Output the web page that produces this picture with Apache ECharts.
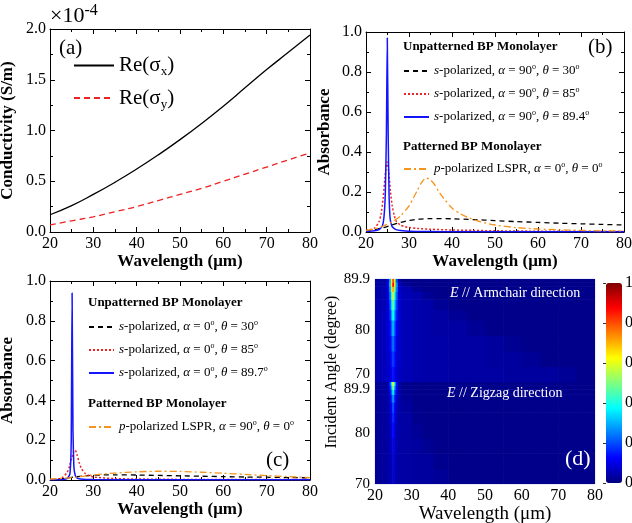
<!DOCTYPE html>
<html>
<head>
<meta charset="utf-8">
<script src="https://cdn.jsdelivr.net/npm/echarts@6/dist/echarts.min.js"></script>
<style>
  html, body { margin: 0; padding: 0; background: #fff; }
  #chart { width: 632px; height: 523px; }
</style>
</head>
<body>
<div id="chart"></div>
<script>
// (a) conductivity, units of 1e-4 S/m
var wlA = [20, 25, 30, 35, 40, 45, 50, 55, 60, 65, 70, 75, 80];
var sigmaX = [0.17, 0.26, 0.37, 0.49, 0.62, 0.76, 0.91, 1.07, 1.24, 1.42, 1.60, 1.77, 1.94];
var sigmaY = [0.07, 0.11, 0.15, 0.20, 0.25, 0.31, 0.37, 0.43, 0.50, 0.57, 0.64, 0.71, 0.78];

// (b) alpha = 90
var wlB30 = [20, 22, 24, 26, 28, 30, 32, 35, 40, 45, 50, 55, 60, 65, 70, 75, 80];
var absB30 = [0.005, 0.012, 0.022, 0.035, 0.048, 0.058, 0.064, 0.067, 0.066, 0.062, 0.057, 0.052, 0.048, 0.044, 0.041, 0.038, 0.035];
var wlB85 = [20, 21, 22, 23, 23.5, 24, 24.4, 24.9, 25.3, 25.7, 26.1, 26.6, 27, 28, 29, 30, 32, 35, 40, 45, 50, 60, 70, 80];
var absB85 = [0.008, 0.012, 0.02, 0.05, 0.09, 0.17, 0.27, 0.35, 0.3, 0.2, 0.13, 0.08, 0.055, 0.035, 0.027, 0.022, 0.018, 0.014, 0.01, 0.008, 0.006, 0.004, 0.003, 0.002];
var wlB894 = [20, 22, 23, 23.8, 24.2, 24.5, 24.75, 24.95, 25.15, 25.35, 25.6, 26, 26.5, 27, 28, 30, 35, 40, 50, 60, 80];
var absB894 = [0.003, 0.006, 0.012, 0.03, 0.08, 0.2, 0.5, 0.97, 0.5, 0.2, 0.07, 0.03, 0.018, 0.012, 0.008, 0.004, 0.002, 0.001, 0.001, 0.001, 0.001];
var wlBLspr = [20, 22, 24, 26, 28, 30, 31, 32, 33, 34, 35, 36, 37, 38, 40, 42, 44, 46, 50, 55, 60, 65, 70, 75, 80];
var absBLspr = [0.008, 0.015, 0.03, 0.05, 0.08, 0.13, 0.17, 0.21, 0.25, 0.27, 0.26, 0.235, 0.2, 0.17, 0.12, 0.09, 0.07, 0.055, 0.035, 0.022, 0.015, 0.011, 0.008, 0.006, 0.005];

// (c) alpha = 0
var wlC30 = [20, 22, 24, 26, 28, 30, 35, 40, 45, 50, 55, 60, 65, 70, 75, 80];
var absC30 = [0.002, 0.005, 0.01, 0.016, 0.021, 0.024, 0.026, 0.025, 0.023, 0.021, 0.019, 0.017, 0.015, 0.014, 0.012, 0.011];
var wlC85 = [20, 22, 23, 24, 24.5, 25, 25.5, 25.8, 26.2, 26.7, 27.2, 28, 29, 30, 35, 40, 50, 60, 80];
var absC85 = [0.003, 0.006, 0.015, 0.04, 0.07, 0.11, 0.145, 0.15, 0.13, 0.09, 0.06, 0.035, 0.022, 0.015, 0.007, 0.005, 0.003, 0.002, 0.002];
var wlC897 = [20, 23, 24, 24.6, 24.9, 25.1, 25.3, 25.5, 25.8, 26.2, 27, 30, 40, 60, 80];
var absC897 = [0.001, 0.003, 0.008, 0.03, 0.2, 0.94, 0.25, 0.07, 0.025, 0.01, 0.005, 0.002, 0.001, 0.001, 0.001];
var wlCLspr = [20, 25, 30, 35, 40, 45, 50, 55, 60, 65, 70, 75, 80];
var absCLspr = [0.004, 0.012, 0.025, 0.035, 0.041, 0.044, 0.043, 0.039, 0.034, 0.028, 0.022, 0.017, 0.012];

// (d) absorbance maps, rows from 70 deg up to 89.9 deg, columns between wavelength edges
var heatWlEdges = [20, 22, 23, 23.8, 24.3, 24.7, 25.2, 25.6, 26.2, 27.2, 30, 33, 36, 40, 45, 50, 55, 60, 65, 70, 75, 80];
var angleEdges = [70, 73, 76, 79, 82, 84, 86, 87.5, 88.5, 89.3, 89.9];
var armchairRows = [
  [0.05, 0.06, 0.07, 0.08, 0.11, 0.14, 0.11, 0.08, 0.065, 0.055, 0.045, 0.04, 0.04, 0.035, 0.035, 0.035, 0.03, 0.03, 0.03, 0.022, 0.012],
  [0.05, 0.06, 0.07, 0.09, 0.14, 0.18, 0.14, 0.09, 0.07, 0.055, 0.045, 0.04, 0.04, 0.035, 0.035, 0.03, 0.03, 0.022, 0.012, 0.012, 0.012],
  [0.05, 0.06, 0.075, 0.10, 0.17, 0.23, 0.17, 0.10, 0.07, 0.055, 0.045, 0.04, 0.04, 0.035, 0.035, 0.03, 0.02, 0.012, 0.012, 0.012, 0.012],
  [0.05, 0.06, 0.08, 0.12, 0.22, 0.30, 0.22, 0.12, 0.075, 0.055, 0.045, 0.04, 0.035, 0.035, 0.022, 0.012, 0.012, 0.012, 0.012, 0.012, 0.012],
  [0.05, 0.06, 0.08, 0.15, 0.28, 0.38, 0.28, 0.15, 0.08, 0.055, 0.045, 0.04, 0.035, 0.022, 0.012, 0.012, 0.012, 0.012, 0.012, 0.012, 0.012],
  [0.045, 0.055, 0.08, 0.18, 0.34, 0.46, 0.34, 0.18, 0.08, 0.055, 0.045, 0.04, 0.022, 0.012, 0.012, 0.012, 0.012, 0.012, 0.012, 0.012, 0.012],
  [0.04, 0.05, 0.08, 0.22, 0.42, 0.56, 0.42, 0.22, 0.08, 0.055, 0.045, 0.022, 0.012, 0.012, 0.012, 0.012, 0.012, 0.012, 0.012, 0.012, 0.012],
  [0.04, 0.05, 0.08, 0.26, 0.52, 0.70, 0.52, 0.26, 0.08, 0.05, 0.022, 0.012, 0.012, 0.012, 0.012, 0.012, 0.012, 0.012, 0.012, 0.012, 0.012],
  [0.035, 0.045, 0.08, 0.30, 0.64, 0.86, 0.64, 0.28, 0.07, 0.025, 0.012, 0.012, 0.012, 0.012, 0.012, 0.012, 0.012, 0.012, 0.012, 0.012, 0.012],
  [0.03, 0.04, 0.07, 0.28, 0.60, 0.80, 0.60, 0.22, 0.03, 0.012, 0.012, 0.012, 0.012, 0.012, 0.012, 0.012, 0.012, 0.012, 0.012, 0.012, 0.012]
];
var zigzagRows = [
  [0.025, 0.03, 0.035, 0.045, 0.055, 0.07, 0.055, 0.045, 0.04, 0.035, 0.03, 0.03, 0.022, 0.012, 0.012, 0.012, 0.012, 0.012, 0.012, 0.012, 0.012],
  [0.025, 0.03, 0.035, 0.045, 0.06, 0.08, 0.06, 0.045, 0.04, 0.035, 0.03, 0.028, 0.015, 0.012, 0.012, 0.012, 0.012, 0.012, 0.012, 0.012, 0.012],
  [0.025, 0.03, 0.035, 0.05, 0.07, 0.10, 0.07, 0.05, 0.04, 0.035, 0.03, 0.02, 0.012, 0.012, 0.012, 0.012, 0.012, 0.012, 0.012, 0.012, 0.012],
  [0.025, 0.03, 0.035, 0.055, 0.085, 0.13, 0.085, 0.055, 0.04, 0.035, 0.022, 0.012, 0.012, 0.012, 0.012, 0.012, 0.012, 0.012, 0.012, 0.012, 0.012],
  [0.025, 0.03, 0.035, 0.06, 0.10, 0.16, 0.10, 0.06, 0.04, 0.035, 0.016, 0.012, 0.012, 0.012, 0.012, 0.012, 0.012, 0.012, 0.012, 0.012, 0.012],
  [0.025, 0.03, 0.035, 0.07, 0.12, 0.20, 0.12, 0.07, 0.04, 0.03, 0.014, 0.012, 0.012, 0.012, 0.012, 0.012, 0.012, 0.012, 0.012, 0.012, 0.012],
  [0.025, 0.03, 0.035, 0.08, 0.16, 0.27, 0.16, 0.08, 0.04, 0.025, 0.012, 0.012, 0.012, 0.012, 0.012, 0.012, 0.012, 0.012, 0.012, 0.012, 0.012],
  [0.025, 0.03, 0.035, 0.10, 0.22, 0.36, 0.22, 0.10, 0.04, 0.02, 0.012, 0.012, 0.012, 0.012, 0.012, 0.012, 0.012, 0.012, 0.012, 0.012, 0.012],
  [0.025, 0.03, 0.035, 0.13, 0.29, 0.48, 0.29, 0.12, 0.035, 0.016, 0.012, 0.012, 0.012, 0.012, 0.012, 0.012, 0.012, 0.012, 0.012, 0.012, 0.012],
  [0.025, 0.03, 0.035, 0.16, 0.36, 0.60, 0.36, 0.14, 0.03, 0.012, 0.012, 0.012, 0.012, 0.012, 0.012, 0.012, 0.012, 0.012, 0.012, 0.012, 0.012]
];

var jet = ['#00007f', '#0000ff', '#007fff', '#00ffff', '#7fff7f', '#ffff00', '#ff7f00', '#ff0000', '#7f0000'];
var serif = 'Liberation Serif';

function pairs(xs, ys) {
  return xs.map(function (x, i) { return [x, ys[i]]; });
}
function cells(rows) {
  var out = [];
  rows.forEach(function (row, j) {
    row.forEach(function (v, i) {
      out.push([heatWlEdges[i], heatWlEdges[i + 1], angleEdges[j], angleEdges[j + 1], v]);
    });
  });
  return out;
}
function renderCell(params, api) {
  var p0 = api.coord([api.value(0), api.value(2)]);
  var p1 = api.coord([api.value(1), api.value(3)]);
  return {
    type: 'rect',
    shape: { x: p0[0], y: p1[1], width: p1[0] - p0[0] + 0.6, height: p0[1] - p1[1] + 0.6 },
    style: { fill: api.visual('color') }
  };
}
function richName(name) {
  return name.replace(/^([sp])-/, '{i|$1}-')
    .replace(/α/g, '{i|α}').replace(/θ/g, '{i|θ}').replace(/°/g, '{sup|o}');
}

var xAxes = [], yAxes = [];
function axisCfg(gi, pos, r, main) {
  return {
    gridIndex: gi, type: 'value', position: pos,
    min: r.min, max: r.max, interval: r.interval,
    name: main ? r.name : '', nameLocation: 'middle', nameGap: r.nameGap,
    nameTextStyle: { fontFamily: serif, fontWeight: 'bold', fontSize: 17, color: '#000' },
    axisLine: { show: true, onZero: false, lineStyle: { color: '#000', width: 1 } },
    axisTick: { show: true, inside: true, length: 5, lineStyle: { color: '#000' } },
    minorTick: { show: true, splitNumber: 2, length: 3, lineStyle: { color: '#000' } },
    splitLine: { show: false },
    axisLabel: { show: main, fontFamily: serif, fontSize: 16, color: '#000', margin: 4, formatter: r.fmt }
  };
}
function boxAxes(gi, xr, yr) {
  var idx = [xAxes.length, yAxes.length];
  xAxes.push(axisCfg(gi, 'bottom', xr, true), axisCfg(gi, 'top', xr, false));
  yAxes.push(axisCfg(gi, 'left', yr, true), axisCfg(gi, 'right', yr, false));
  return idx;
}
function oneDec(v) { return v.toFixed(1); }

var wlRange = function (gap) { return { min: 20, max: 80, interval: 10, name: 'Wavelength (μm)', nameGap: gap }; };
var axA = boxAxes(0, wlRange(17), { min: 0, max: 2, interval: 0.5, name: 'Conductivity (S/m)', nameGap: 34, fmt: oneDec });
var axB = boxAxes(1, wlRange(17), { min: 0, max: 1, interval: 0.2, name: 'Absorbance', nameGap: 33, fmt: oneDec });
var axC = boxAxes(2, wlRange(19), { min: 0, max: 1, interval: 0.2, name: 'Absorbance', nameGap: 34, fmt: oneDec });

// heat maps (grids 3, 4) and colour bar axis (grid 5)
var heatX = xAxes.length;
xAxes.push({
  gridIndex: 3, type: 'value', min: 20, max: 80, interval: 10, show: false
}, {
  gridIndex: 4, type: 'value', min: 20, max: 80, interval: 10,
  axisLine: { show: false }, axisTick: { show: false }, splitLine: { show: false },
  axisLabel: { fontFamily: serif, fontSize: 16, color: '#000', margin: 4 },
  name: 'Wavelength (μm)', nameLocation: 'middle', nameGap: 13,
  nameTextStyle: { fontFamily: serif, fontSize: 19, color: '#000' }
}, {
  gridIndex: 5, type: 'value', min: 0, max: 1, show: false
});
var heatY = yAxes.length;
function angleAxis(gi, extra) {
  var a = {
    gridIndex: gi, type: 'value', min: 70, max: 89.9, interval: 10,
    axisLine: { show: false }, axisTick: { show: false }, splitLine: { show: false },
    axisLabel: { fontFamily: serif, fontSize: 15, color: '#000', margin: 5,
      formatter: function (v) { return v > 89 ? '89.9' : String(v); } }
  };
  for (var k in extra) a.axisLabel[k] = extra[k];
  return a;
}
yAxes.push(angleAxis(3, { verticalAlignMinLabel: 'bottom' }), angleAxis(4, { verticalAlignMaxLabel: 'top' }), {
  gridIndex: 5, type: 'value', min: 0, max: 1, interval: 0.2, position: 'right', z: 10,
  axisLine: { show: false }, splitLine: { show: false },
  axisTick: { show: true, inside: true, length: 3, lineStyle: { color: '#333' } },
  axisLabel: { fontFamily: serif, fontSize: 16, color: '#000', margin: 3,
    formatter: function (v) { return v === 0 ? '0' : v === 1 ? '1' : v.toFixed(1); } }
});

function line(name, xi, yi, data, color, type, width, smooth) {
  return { type: 'line', symbol: 'none', smooth: smooth === undefined ? 0.25 : smooth,
    name: name, xAxisIndex: xi, yAxisIndex: yi, data: data,
    lineStyle: { color: color, type: type, width: width || 1.3 }, itemStyle: { color: color } };
}

var nB = ['s-polarized, α = 90°, θ = 30°', 's-polarized, α = 90°, θ = 85°', 's-polarized, α = 90°, θ = 89.4°', 'p-polarized LSPR, α = 0°, θ = 0°'];
var nC = ['s-polarized, α = 0°, θ = 30°', 's-polarized, α = 0°, θ = 85°', 's-polarized, α = 0°, θ = 89.7°', 'p-polarized LSPR, α = 90°, θ = 0°'];
var red = '#ee2222', blue = '#1414ff', orange = '#f7941d';
var dash = [5, 4], dot = [2, 2], dashDot = [7, 3, 2, 3];

var series = [
  line('Re(σx)', axA[0], axA[1], pairs(wlA, sigmaX), '#000', 'solid', 1.3, true),
  line('Re(σy)', axA[0], axA[1], pairs(wlA, sigmaY), red, [6, 4], 1.3, true),
  line(nB[0], axB[0], axB[1], pairs(wlB30, absB30), '#000', dash),
  line(nB[1], axB[0], axB[1], pairs(wlB85, absB85), red, dot, 1.5),
  line(nB[2], axB[0], axB[1], pairs(wlB894, absB894), blue, 'solid', 1.5, 0.15),
  line(nB[3], axB[0], axB[1], pairs(wlBLspr, absBLspr), orange, dashDot),
  line(nC[0], axC[0], axC[1], pairs(wlC30, absC30), '#000', dash),
  line(nC[1], axC[0], axC[1], pairs(wlC85, absC85), red, dot, 1.5),
  line(nC[2], axC[0], axC[1], pairs(wlC897, absC897), blue, 'solid', 1.5, 0.1),
  line(nC[3], axC[0], axC[1], pairs(wlCLspr, absCLspr), orange, dashDot),
  { type: 'custom', name: 'armchair', xAxisIndex: heatX, yAxisIndex: heatY, renderItem: renderCell,
    encode: { x: [0, 1], y: [2, 3] }, data: cells(armchairRows), clip: true, silent: true },
  { type: 'custom', name: 'zigzag', xAxisIndex: heatX + 1, yAxisIndex: heatY + 1, renderItem: renderCell,
    encode: { x: [0, 1], y: [2, 3] }, data: cells(zigzagRows), clip: true, silent: true }
];

var legText = { fontFamily: serif, fontSize: 13, color: '#000', lineHeight: 16,
  rich: { i: { fontStyle: 'italic', fontFamily: serif, fontSize: 13, lineHeight: 16 },
          sup: { fontFamily: serif, fontSize: 8, lineHeight: 8, verticalAlign: 'top' } } };
function leg(names, left, top) {
  return { data: names, orient: 'vertical', left: left, top: top, padding: 0, itemGap: 7,
    itemWidth: 25, itemHeight: 14, selectedMode: false, itemStyle: { opacity: 0 },
    textStyle: legText, formatter: richName };
}

var noBounds = { outerBoundsMode: 'none', containLabel: false };
function grid(o) { for (var k in noBounds) o[k] = noBounds[k]; return o; }

var option = {
  animation: false,
  backgroundColor: '#fff',
  grid: [
    grid({ left: 50, top: 29, width: 260, height: 203 }),
    grid({ left: 366, top: 32, width: 258, height: 200 }),
    grid({ left: 50, top: 281, width: 260, height: 199 }),
    grid({ left: 375, top: 279, width: 220, height: 103, show: true, borderColor: '#d8d8ee', borderWidth: 1 }),
    grid({ left: 375, top: 382, width: 220, height: 102, show: true, borderColor: '#d8d8ee', borderWidth: 1 }),
    grid({ left: 606, top: 283, width: 16, height: 200 })
  ],
  xAxis: xAxes,
  yAxis: yAxes,
  visualMap: {
    type: 'continuous', min: 0, max: 1, seriesIndex: [10, 11], dimension: 4,
    inRange: { color: jet }, calculable: false, hoverLink: false,
    left: 606, top: 283, itemWidth: 16, itemHeight: 200, padding: 0, text: null
  },
  legend: [
    { data: ['Re(σx)', 'Re(σy)'], orient: 'vertical', left: 73, top: 55, padding: 0, itemGap: 9,
      itemWidth: 40, itemHeight: 14, selectedMode: false, itemStyle: { opacity: 0 },
      formatter: function (n) { return '{n|Re(σ}{sub|' + n.charAt(4) + '}{n|)}'; },
      textStyle: { rich: { n: { fontFamily: serif, fontSize: 21, color: '#000', lineHeight: 26 },
                           sub: { fontFamily: serif, fontSize: 13, lineHeight: 13, color: '#000', verticalAlign: 'bottom' } } } },
    leg(nB.slice(0, 3), 403, 63),
    leg([nB[3]], 403, 161),
    leg(nC.slice(0, 3), 88, 319),
    leg([nC[3]], 88, 419)
  ],
  graphic: [
    { type: 'text', x: 50, y: 16, style: { text: '{b|×10}{s|-4}', verticalAlign: 'middle',
      rich: { b: { fontFamily: serif, fontSize: 22, fill: '#000', lineHeight: 26 },
              s: { fontFamily: serif, fontSize: 16, fill: '#000', lineHeight: 16, verticalAlign: 'top' } } } },
    { type: 'text', x: 59, y: 48, style: { text: '(a)', fontFamily: serif, fontSize: 21, fill: '#000', verticalAlign: 'middle' } },
    { type: 'text', x: 588, y: 47, style: { text: '(b)', fontFamily: serif, fontSize: 21, fill: '#000', verticalAlign: 'middle' } },
    { type: 'text', x: 266, y: 460, style: { text: '(c)', fontFamily: serif, fontSize: 21, fill: '#000', verticalAlign: 'middle' } },
    { type: 'text', x: 565, y: 459, z: 20, style: { text: '(d)', fontFamily: serif, fontSize: 22, fill: '#fff', verticalAlign: 'middle' } },
    { type: 'text', x: 403, y: 47, style: { text: 'Unpatterned BP Monolayer', fontFamily: serif, fontWeight: 'bold', fontSize: 13, fill: '#000', verticalAlign: 'middle' } },
    { type: 'text', x: 403, y: 147, style: { text: 'Patterned BP Monolayer', fontFamily: serif, fontWeight: 'bold', fontSize: 13, fill: '#000', verticalAlign: 'middle' } },
    { type: 'text', x: 88, y: 303, style: { text: 'Unpatterned BP Monolayer', fontFamily: serif, fontWeight: 'bold', fontSize: 13, fill: '#000', verticalAlign: 'middle' } },
    { type: 'text', x: 88, y: 404, style: { text: 'Patterned BP Monolayer', fontFamily: serif, fontWeight: 'bold', fontSize: 13, fill: '#000', verticalAlign: 'middle' } },
    { type: 'text', x: 450, y: 293, z: 20, style: { text: '{i|E} // Armchair direction', fontFamily: serif, fontSize: 14, fill: '#fff', verticalAlign: 'middle',
      rich: { i: { fontStyle: 'italic', fontFamily: serif, fontSize: 14, fill: '#fff' } } } },
    { type: 'text', x: 447, y: 393, z: 20, style: { text: '{i|E} // Zigzag direction', fontFamily: serif, fontSize: 14, fill: '#fff', verticalAlign: 'middle',
      rich: { i: { fontStyle: 'italic', fontFamily: serif, fontSize: 14, fill: '#fff' } } } },
    { type: 'text', x: 332, y: 372, rotation: Math.PI / 2, style: { text: 'Incident Angle (degree)', fontFamily: serif, fontSize: 16, fill: '#000', align: 'center', verticalAlign: 'middle' } }
  ],
  series: series
};

var chart = echarts.init(document.getElementById('chart'), null, { renderer: 'canvas' });
chart.setOption(option);
</script>
</body>
</html>
